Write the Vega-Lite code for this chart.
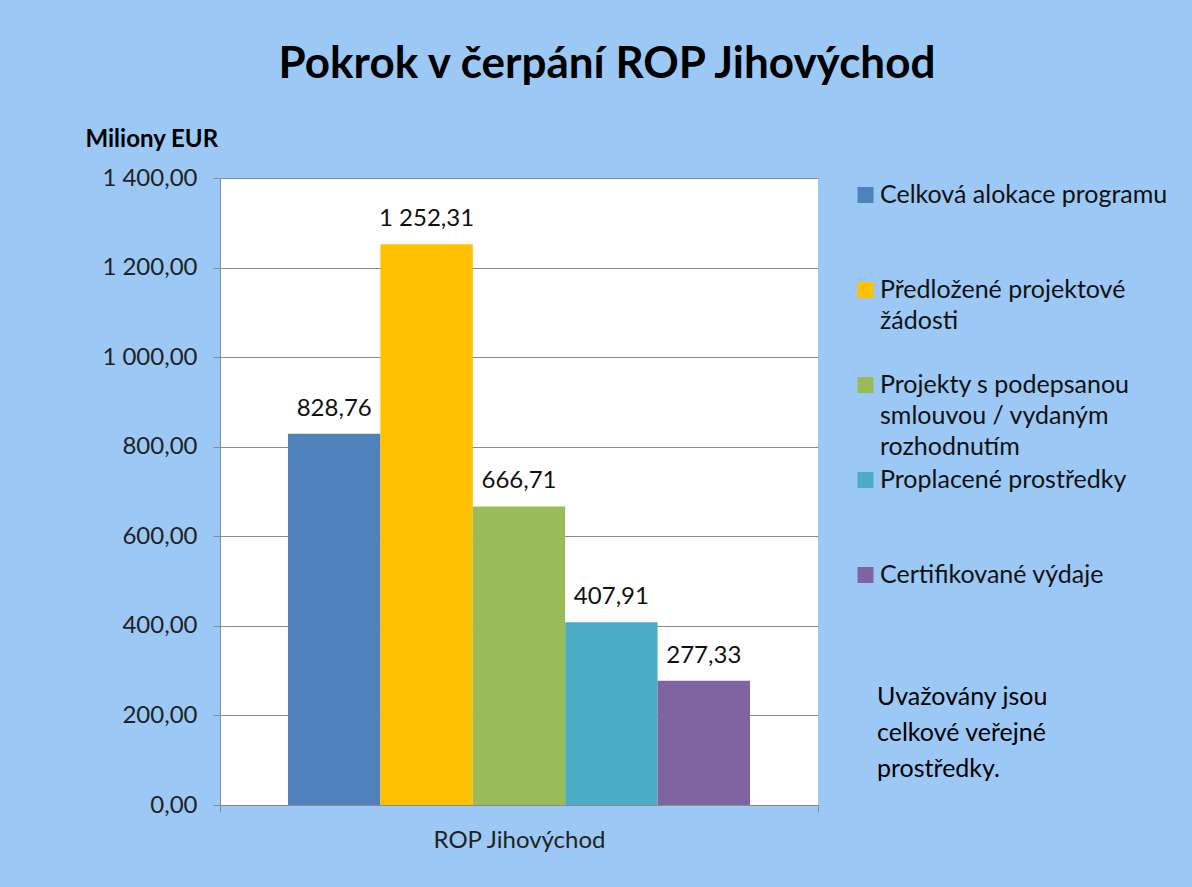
{
  "$schema": "https://vega.github.io/schema/vega-lite/v6.json",
  "autosize": {"type": "none"},
  "width": 598,
  "height": 627,
  "padding": {"left": 220, "top": 178, "right": 374, "bottom": 82},
  "background": "#9cc8f6",
  "title": {
    "text": "Pokrok v čerpání ROP Jihovýchod",
    "font": "Lato",
    "fontSize": 44,
    "fontWeight": "bold",
    "color": "#000000",
    "anchor": "middle",
    "frame": "group",
    "dx": 88,
    "offset": 40
  },
  "data": {
    "values": [
      {"program": "ROP Jihovýchod", "series": "Celková alokace programu", "value": 828.76},
      {"program": "ROP Jihovýchod", "series": "Předložené projektové žádosti", "value": 1252.31},
      {"program": "ROP Jihovýchod", "series": "Projekty s podepsanou smlouvou / vydaným rozhodnutím", "value": 666.71},
      {"program": "ROP Jihovýchod", "series": "Proplacené prostředky", "value": 407.91},
      {"program": "ROP Jihovýchod", "series": "Certifikované výdaje", "value": 277.33}
    ]
  },
  "encoding": {
    "x": {
      "field": "program",
      "type": "nominal",
      "scale": {"paddingInner": 0, "paddingOuter": 0},
      "axis": {
        "title": null,
        "labelAngle": 0,
        "labelFont": "Lato",
        "labelFontSize": 24,
        "labelColor": "#222222",
        "labelPadding": 16,
        "tickBand": "extent",
        "tickSize": 7,
        "tickColor": "#8a8a8a",
        "domainColor": "#8a8a8a",
        "grid": false
      }
    },
    "xOffset": {
      "field": "series",
      "type": "nominal",
      "sort": null,
      "scale": {"paddingInner": 0, "paddingOuter": 0.736}
    },
    "y": {
      "field": "value",
      "type": "quantitative",
      "scale": {"domain": [0, 1400], "nice": false},
      "axis": {
        "values": [0, 200, 400, 600, 800, 1000, 1200, 1400],
        "format": ",.2f",
        "labelFont": "Lato",
        "labelFontSize": 24,
        "labelColor": "#222222",
        "labelPadding": 16,
        "tickSize": 7,
        "tickColor": "#8a8a8a",
        "domainColor": "#8a8a8a",
        "gridColor": "#8a8a8a",
        "title": "Miliony EUR",
        "titleFont": "Lato",
        "titleFontSize": 24,
        "titleFontWeight": "bold",
        "titleColor": "#000000",
        "titleAngle": 0,
        "titleAlign": "left",
        "titleBaseline": "alphabetic",
        "titleX": -135,
        "titleY": -32
      }
    }
  },
  "layer": [
    {
      "mark": {"type": "bar"},
      "encoding": {
        "color": {
          "field": "series",
          "type": "nominal",
          "scale": {
            "domain": ["Celková alokace programu", "Předložené projektové žádosti", "Projekty s podepsanou smlouvou / vydaným rozhodnutím", "Proplacené prostředky", "Certifikované výdaje"],
            "range": ["#4f81bd", "#ffc000", "#9bbb59", "#4bacc6", "#8064a2"]
          },
          "legend": {
            "orient": "none",
            "legendX": 633,
            "legendY": 12,
            "direction": "vertical",
            "padding": 0,
            "symbolType": "M-1,-1.94H1V0.06H-1Z",
            "symbolSize": 256,
            "symbolStrokeWidth": 0,
            "symbolOpacity": 1,
            "labelFont": "Lato",
            "labelFontSize": 25,
            "labelColor": "#111111",
            "labelBaseline": "alphabetic",
            "labelOffset": 2,
            "labelLimit": 500,
            "rowPadding": 7,
            "labelExpr": "{'Celková alokace programu': ['Celková alokace programu', '', ''], 'Předložené projektové žádosti': ['Předložené projektové', 'žádosti', ''], 'Projekty s podepsanou smlouvou / vydaným rozhodnutím': ['Projekty s podepsanou', 'smlouvou / vydaným', 'rozhodnutím'], 'Proplacené prostředky': ['Proplacené prostředky', '', ''], 'Certifikované výdaje': ['Certifikované výdaje', '', '']}[datum.label]",
            "title": ["Uvažovány jsou", "celkové veřejné", "prostředky."],
            "titleOrient": "bottom",
            "titleAnchor": "start",
            "titleFont": "Lato",
            "titleFontSize": 25,
            "titleFontWeight": "normal",
            "titleColor": "#000000",
            "titleLineHeight": 36,
            "titlePadding": 35,
            "titleLimit": 500,
            "encode": {
              "labels": {"update": {"lineHeight": {"value": 31}}},
              "title": {"update": {"dx": {"value": 24}}}
            }
          }
        }
      }
    },
    {
      "mark": {"type": "text", "baseline": "alphabetic", "dy": -18, "font": "Lato", "fontSize": 24, "color": "#111111"},
      "encoding": {
        "text": {"field": "value", "type": "quantitative", "format": ",.2f"}
      }
    }
  ],
  "config": {
    "locale": {"number": {"decimal": ",", "thousands": " ", "grouping": [3], "currency": ["", " €"]}},
    "view": {"fill": "#ffffff", "stroke": null}
  }
}
